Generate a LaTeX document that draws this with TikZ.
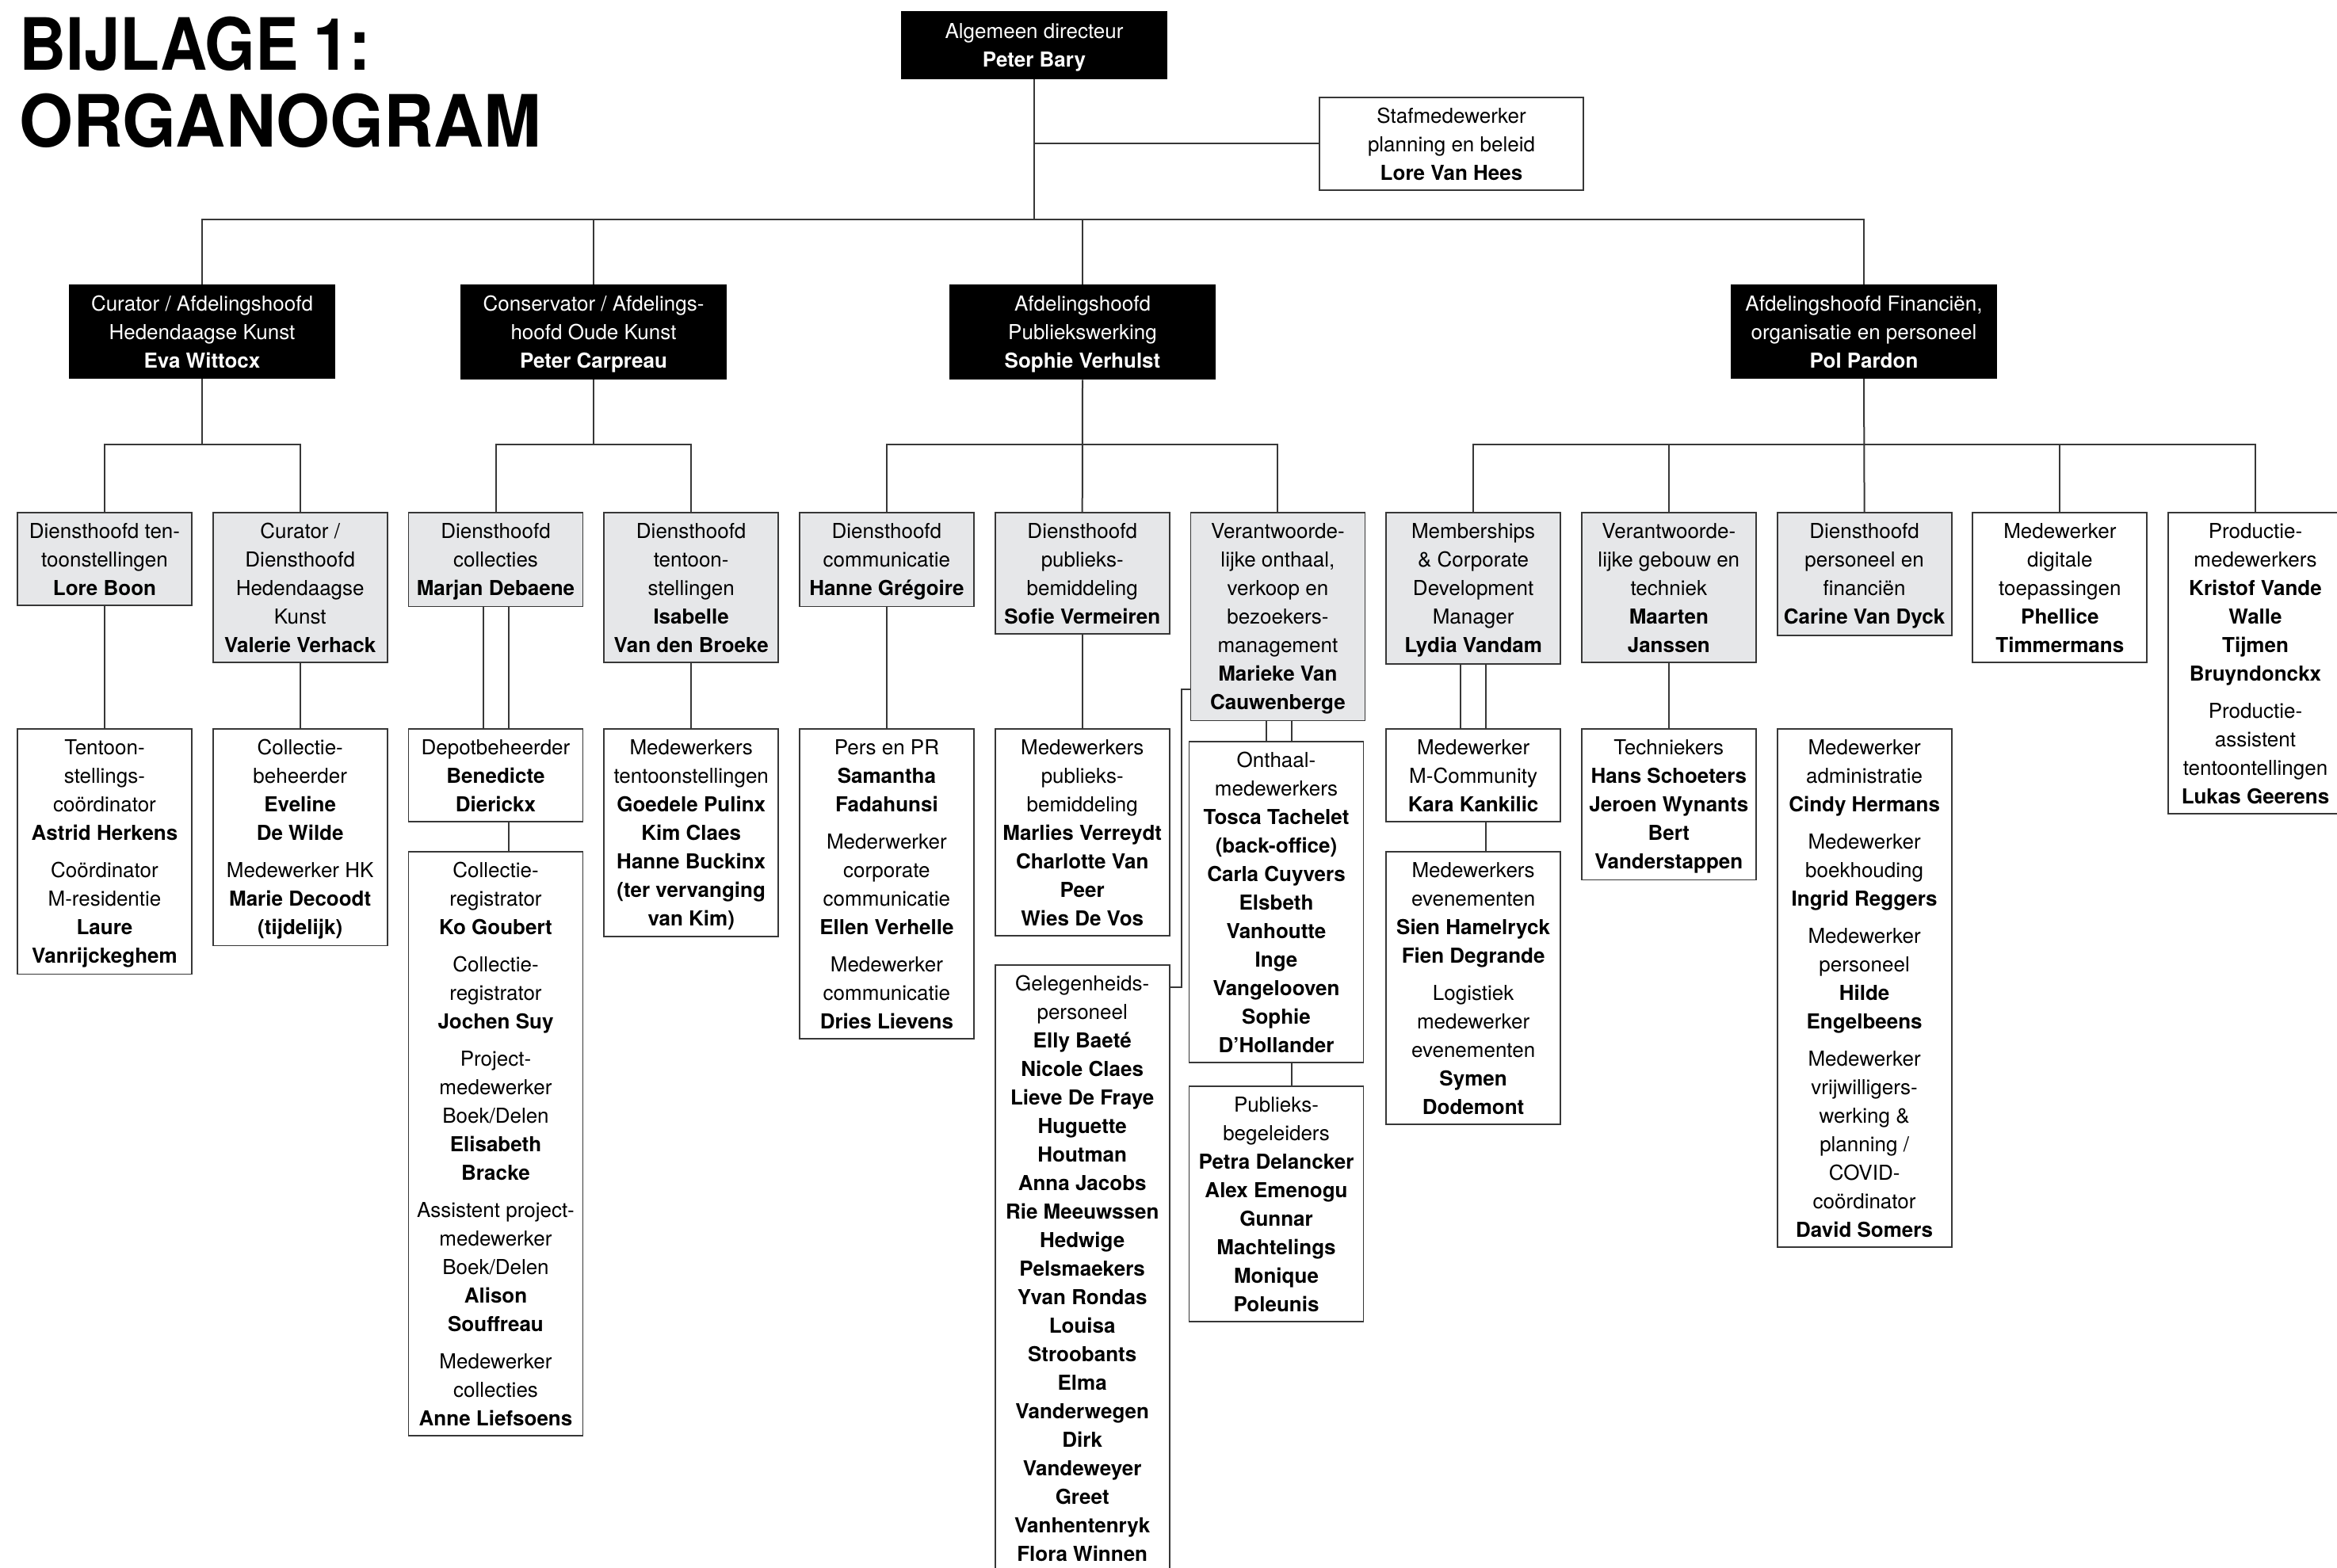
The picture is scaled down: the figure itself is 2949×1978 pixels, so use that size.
\documentclass[tikz,border=0pt]{standalone}
\usepackage{fontspec}
\usepackage{graphicx}
\setmainfont{TeX Gyre Heros}
\usetikzlibrary{calc}
\definecolor{linec}{RGB}{55,55,55}
\definecolor{boxgray}{RGB}{230,231,233}
\newcommand{\fst}{\rule[-4pt]{0pt}{29pt}}
\tikzset{
  conn/.style={draw=linec, line width=2pt},
  basebox/.style={draw=linec, line width=1.8pt, align=center, inner xsep=0pt, inner ysep=8pt, anchor=north, font=\fontsize{26}{36}\selectfont, text=black},
  grey/.style={basebox, fill=boxgray, minimum width=220pt},
  wbox/.style={basebox, fill=white, minimum width=220pt},
  head/.style={basebox, fill=black, draw=black, text=white, minimum width=334pt},
  titlefont/.style={anchor=base west, inner sep=0pt, font=\fontsize{91}{97}\selectfont\bfseries}
}
\begin{document}
\begin{tikzpicture}[x=1pt,y=-1pt]
\fill[white] (0,0) rectangle (2949,1978);
\useasboundingbox (0,0) rectangle (2949,1978);

% title
\node[titlefont] (t1) at (24,88) {\scalebox{0.9}[1]{BIJLAGE\hspace{20pt}1:}};
\node[titlefont] (t2) at (24,185) {\scalebox{0.96}[1]{ORGANOGRAM}};

\coordinate (mainbus) at (0,277);
\coordinate (subbus) at (0,561);

% level 1
\node[head, minimum width=335pt, minimum height=84pt] (peter) at (1305,14) {\fst Algemeen directeur\\\textbf{Peter Bary}\fst};
\node[wbox, minimum width=333pt] (staf) at (1831.5,122) {\fst Stafmedewerker\\planning en beleid\\\textbf{Lore Van Hees}\fst};

% level 2
\node[head] (eva) at (255,359) {\fst Curator / Afdelingshoofd\\Hedendaagse Kunst\\\textbf{Eva Wittocx}\fst};
\node[head] (carpreau) at (749,359) {\fst Conservator / Afdelings-\\hoofd Oude Kunst\\\textbf{Peter Carpreau}\fst};
\node[head] (sophie) at (1366,359) {\fst Afdelingshoofd\\Publiekswerking\\\textbf{Sophie Verhulst}\fst};
\node[head] (pol) at (2352,359) {\fst Afdelingshoofd Financiën,\\organisatie en personeel\\\textbf{Pol Pardon}\fst};

% level 3
\node[grey] (loreboon) at (132,646) {\fst Diensthoofd ten-\\toonstellingen\\\textbf{Lore Boon}\fst};
\node[grey] (valerie) at (378.7,646) {\fst Curator /\\Diensthoofd\\Hedendaagse\\Kunst\\\textbf{Valerie Verhack}\fst};
\node[grey] (marjan) at (625.5,646) {\fst Diensthoofd\\collecties\\\textbf{Marjan Debaene}\fst};
\node[grey] (isabelle) at (872.2,646) {\fst Diensthoofd\\tentoon-\\stellingen\\\textbf{Isabelle}\\\textbf{Van den Broeke}\fst};
\node[grey] (hanne) at (1118.9,646) {\fst Diensthoofd\\communicatie\\\textbf{Hanne Grégoire}\fst};
\node[grey] (sofie) at (1365.7,646) {\fst Diensthoofd\\publieks-\\bemiddeling\\\textbf{Sofie Vermeiren}\fst};
\node[grey] (marieke) at (1612.4,646) {\fst Verantwoorde-\\lijke onthaal,\\verkoop en\\bezoekers-\\management\\\textbf{Marieke Van}\\\textbf{Cauwenberge}\fst};
\node[grey] (lydia) at (1859.1,646) {\fst Memberships\\\& Corporate\\Development\\Manager\\\textbf{Lydia Vandam}\fst};
\node[grey] (maarten) at (2105.8,646) {\fst Verantwoorde-\\lijke gebouw en\\techniek\\\textbf{Maarten}\\\textbf{Janssen}\fst};
\node[grey] (carine) at (2352.6,646) {\fst Diensthoofd\\personeel en\\financiën\\\textbf{Carine Van Dyck}\fst};
\node[wbox] (phellice) at (2599.3,646) {\fst Medewerker\\digitale\\toepassingen\\\textbf{Phellice}\\\textbf{Timmermans}\fst};
\node[wbox] (productie) at (2846,646) {\fst Productie-\\medewerkers\\\textbf{Kristof Vande}\\\textbf{Walle}\\\textbf{Tijmen}\\\textbf{Bruyndonckx}\\[11pt]Productie-\\assistent\\tentoontellingen\\\textbf{Lukas Geerens}\fst};

% level 4
\node[wbox] (tentoon) at (132,919) {\fst Tentoon-\\stellings-\\coördinator\\\textbf{Astrid Herkens}\\[11pt]Coördinator\\M-residentie\\\textbf{Laure}\\\textbf{Vanrijckeghem}\fst};
\node[wbox] (collbeh) at (378.7,919) {\fst Collectie-\\beheerder\\\textbf{Eveline}\\\textbf{De Wilde}\\[11pt]Medewerker HK\\\textbf{Marie Decoodt}\\\textbf{(tijdelijk)}\fst};
\node[wbox] (depot) at (625.5,919) {\fst Depotbeheerder\\\textbf{Benedicte}\\\textbf{Dierickx}\fst};
\node[wbox] (collreg) at (625.5,1074) {\fst Collectie-\\registrator\\\textbf{Ko Goubert}\\[11pt]Collectie-\\registrator\\\textbf{Jochen Suy}\\[11pt]Project-\\medewerker\\Boek/Delen\\\textbf{Elisabeth}\\\textbf{Bracke}\\[11pt]Assistent project-\\medewerker\\Boek/Delen\\\textbf{Alison}\\\textbf{Souffreau}\\[11pt]Medewerker\\collecties\\\textbf{Anne Liefsoens}\fst};
\node[wbox] (medtent) at (872.2,919) {\fst Medewerkers\\tentoonstellingen\\\textbf{Goedele Pulinx}\\\textbf{Kim Claes}\\\textbf{Hanne Buckinx}\\\textbf{(ter vervanging}\\\textbf{van Kim)}\fst};
\node[wbox] (perspr) at (1118.9,919) {\fst Pers en PR\\\textbf{Samantha}\\\textbf{Fadahunsi}\\[11pt]Mederwerker\\corporate\\communicatie\\\textbf{Ellen Verhelle}\\[11pt]Medewerker\\communicatie\\\textbf{Dries Lievens}\fst};
\node[wbox] (medpub) at (1365.7,919) {\fst Medewerkers\\publieks-\\bemiddeling\\\textbf{Marlies Verreydt}\\\textbf{Charlotte Van}\\\textbf{Peer}\\\textbf{Wies De Vos}\fst};
\node[wbox] (gelegen) at (1365.7,1217) {\fst Gelegenheids-\\personeel\\\textbf{Elly Baeté}\\\textbf{Nicole Claes}\\\textbf{Lieve De Fraye}\\\textbf{Huguette}\\\textbf{Houtman}\\\textbf{Anna Jacobs}\\\textbf{Rie Meeuwssen}\\\textbf{Hedwige}\\\textbf{Pelsmaekers}\\\textbf{Yvan Rondas}\\\textbf{Louisa}\\\textbf{Stroobants}\\\textbf{Elma}\\\textbf{Vanderwegen}\\\textbf{Dirk}\\\textbf{Vandeweyer}\\\textbf{Greet}\\\textbf{Vanhentenryk}\\\textbf{Flora Winnen}\fst};
\node[wbox] (onthaal) at (1610.5,935) {\fst Onthaal-\\medewerkers\\\textbf{Tosca Tachelet}\\\textbf{(back-office)}\\\textbf{Carla Cuyvers}\\\textbf{Elsbeth}\\\textbf{Vanhoutte}\\\textbf{Inge}\\\textbf{Vangelooven}\\\textbf{Sophie}\\\textbf{D’Hollander}\fst};
\node[wbox] (publbeg) at (1610.5,1370) {\fst Publieks-\\begeleiders\\\textbf{Petra Delancker}\\\textbf{Alex Emenogu}\\\textbf{Gunnar}\\\textbf{Machtelings}\\\textbf{Monique}\\\textbf{Poleunis}\fst};
\node[wbox] (mcomm) at (1859.1,919) {\fst Medewerker\\M-Community\\\textbf{Kara Kankilic}\fst};
\node[wbox] (evenem) at (1859.1,1074) {\fst Medewerkers\\evenementen\\\textbf{Sien Hamelryck}\\\textbf{Fien Degrande}\\[11pt]Logistiek\\medewerker\\evenementen\\\textbf{Symen}\\\textbf{Dodemont}\fst};
\node[wbox] (techn) at (2105.8,919) {\fst Techniekers\\\textbf{Hans Schoeters}\\\textbf{Jeroen Wynants}\\\textbf{Bert}\\\textbf{Vanderstappen}\fst};
\node[wbox] (admin) at (2352.6,919) {\fst Medewerker\\administratie\\\textbf{Cindy Hermans}\\[11pt]Medewerker\\boekhouding\\\textbf{Ingrid Reggers}\\[11pt]Medewerker\\personeel\\\textbf{Hilde}\\\textbf{Engelbeens}\\[11pt]Medewerker\\vrijwilligers-\\werking \&\\planning /\\COVID-\\coördinator\\\textbf{David Somers}\fst};

% connectors level 1-2
\draw[conn] (peter.south) -- (peter.south |- mainbus);
\draw[conn] (staf.west) -- (staf.west -| peter.south);
\draw[conn] (eva.north) |- (pol.north |- mainbus) -- (pol.north);
\draw[conn] (carpreau.north) -- (carpreau.north |- mainbus);
\draw[conn] (sophie.north) -- (sophie.north |- mainbus);

% connectors level 2-3
\draw[conn] (eva.south) -- (eva.south |- subbus);
\draw[conn] (loreboon.north) |- (valerie.north |- subbus) -- (valerie.north);
\draw[conn] (carpreau.south) -- (carpreau.south |- subbus);
\draw[conn] (marjan.north) |- (isabelle.north |- subbus) -- (isabelle.north);
\draw[conn] (sophie.south) -- (sofie.north);
\draw[conn] (hanne.north) |- (marieke.north |- subbus) -- (marieke.north);
\draw[conn] (pol.south) -- (carine.north);
\draw[conn] (lydia.north) |- (productie.north |- subbus) -- (productie.north);
\draw[conn] (maarten.north) -- (maarten.north |- subbus);
\draw[conn] (phellice.north) -- (phellice.north |- subbus);

% connectors level 3-4
\draw[conn] (loreboon.south) -- (tentoon.north);
\draw[conn] (valerie.south) -- (collbeh.north);
\draw[conn] ([xshift=-16pt]marjan.south) -- ([xshift=-16pt]depot.north);
\draw[conn] ([xshift=16pt]marjan.south) -- ([xshift=16pt]depot.north);
\draw[conn] ([xshift=16pt]depot.south) -- ([xshift=16pt]collreg.north);
\draw[conn] (isabelle.south) -- (medtent.north);
\draw[conn] (hanne.south) -- (perspr.north);
\draw[conn] (sofie.south) -- (medpub.north);
\draw[conn] ([yshift=40pt]marieke.south west) -| ([xshift=14pt,yshift=-29pt]gelegen.north east) -- ([yshift=-29pt]gelegen.north east);
\draw[conn] ([xshift=-14pt]marieke.south) -- ([xshift=-14pt]marieke.south |- onthaal.north);
\draw[conn] ([xshift=18pt]marieke.south) -- ([xshift=18pt]marieke.south |- onthaal.north);
\draw[conn] ([xshift=18pt]marieke.south |- onthaal.south) -- ([xshift=18pt]marieke.south |- publbeg.north);
\draw[conn] ([xshift=-16pt]lydia.south) -- ([xshift=-16pt]mcomm.north);
\draw[conn] ([xshift=16pt]lydia.south) -- ([xshift=16pt]mcomm.north);
\draw[conn] ([xshift=16pt]mcomm.south) -- ([xshift=16pt]evenem.north);
\draw[conn] (maarten.south) -- (techn.north);
\end{tikzpicture}
\end{document}
